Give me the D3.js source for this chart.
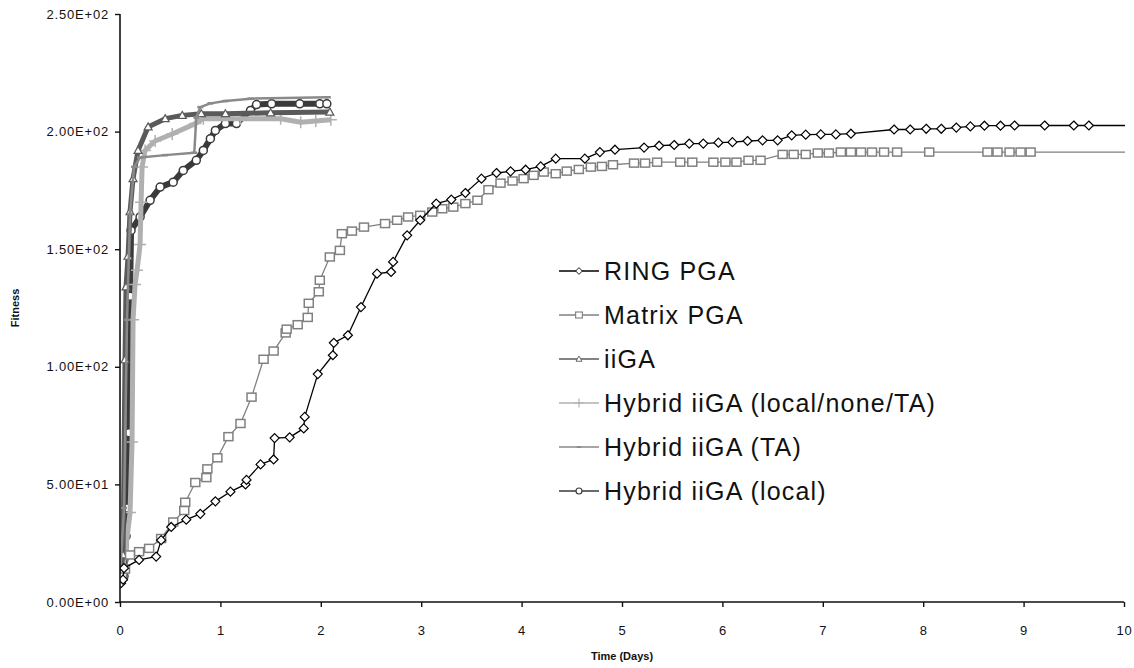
<!DOCTYPE html>
<html>
<head>
<meta charset="utf-8">
<script src="https://cdn.jsdelivr.net/npm/d3@7"></script>
<style>
    body { margin: 0; background: #fff; }
    text { font-family: "Liberation Sans", Arial, sans-serif; fill: #111; }
    .tick text { font-size: 13px; letter-spacing: 0.8px; }
    .axisTitle { font-size: 11px; font-weight: bold; }
    .legendText { font-size: 25px; letter-spacing: 1.2px; }
</style>
</head>
<body>
<script>
// ---- data (time in days, fitness) ----
var ringX = [0.01,0.03,0.04,0.19,0.36,0.41,0.51,0.66,0.80,0.95,1.10,1.25,1.26,1.40,1.53,1.54,1.69,1.83,1.84,1.97,2.12,2.13,2.27,2.40,2.56,2.70,2.72,2.86,2.99,3.15,3.30,3.44,3.60,3.75,3.89,4.04,4.19,4.34,4.63,4.78,4.93,5.22,5.37,5.52,5.67,5.81,5.96,6.10,6.25,6.40,6.55,6.69,6.83,6.98,7.13,7.28,7.71,7.87,8.03,8.18,8.33,8.47,8.61,8.77,8.91,9.21,9.50,9.65,10.4];
var ringY = [8,9.5,14.4,17.9,19.3,26.3,31.9,35,37.5,42.8,46.9,50,51.9,58.5,60.6,69.7,70,73.8,78.7,96.9,104.9,110.2,113.4,125.4,139.6,140.3,144.6,155.9,162.3,169.4,171.1,173.9,180,182.4,183.1,183.8,185.2,188.5,188.5,191.3,192.3,193.2,194,194.3,194.9,194.9,195.3,195.5,196,196.3,196.3,198.4,198.7,198.8,198.8,199.1,200.9,200.9,201.2,201.2,201.7,202.2,202.5,202.5,202.6,202.6,202.6,202.6,202.6];

var matrixX = [0.00,0.02,0.05,0.10,0.19,0.29,0.41,0.53,0.64,0.65,0.75,0.86,0.87,0.97,1.08,1.20,1.31,1.43,1.53,1.65,1.66,1.77,1.87,1.88,1.98,1.99,2.09,2.19,2.21,2.31,2.43,2.64,2.76,2.87,2.99,3.11,3.21,3.32,3.44,3.56,3.67,3.79,3.91,4.02,4.12,4.22,4.34,4.45,4.57,4.69,4.80,4.91,5.12,5.23,5.35,5.58,5.70,5.91,6.03,6.14,6.26,6.38,6.60,6.71,6.83,6.95,7.06,7.18,7.28,7.38,7.49,7.61,7.74,8.06,8.64,8.74,8.86,8.97,9.07,10.4];
var matrixY = [10,11,14,20,21.4,22.8,27,34,38.9,42.4,50.8,52.9,56.6,61.3,70.3,75.9,87.1,103.2,106.7,114.4,116,117.9,121,127,131.9,136.8,146.7,149.5,156.6,157.7,159.4,160.9,162.3,163.7,164.4,165.8,167.2,167.9,169.4,170.8,175.3,178.1,179,180,181.4,182.8,182.1,183.2,183.9,184.9,185.2,185.9,186.6,186.6,187,187,187,187,187,187,187.8,187.8,190.3,190.3,190.3,190.9,190.9,191.3,191.3,191.3,191.3,191.3,191.3,191.3,191.3,191.3,191.3,191.3,191.3,191.3];

var iigaX = [0.00,0.03,0.05,0.06,0.08,0.10,0.13,0.18,0.28,0.45,0.62,0.81,1.05,1.50,2.09];
var iigaY = [12,20,103,134,147,166,180,192,202,205.5,206.9,207.6,207.6,208,208.3];

var hybLntX = [0.01,0.05,0.10,0.12,0.13,0.15,0.17,0.20,0.21,0.22,0.25,0.35,0.52,0.75,0.83,1.20,1.60,1.80,1.95,2.10];
var hybLntY = [12,20,38,68,120,135,141,152,170,185,192,196,199,203.4,205.5,205.5,205.5,204,204.5,205];

var hybTaX = [0.00,0.04,0.07,0.10,0.14,0.20,0.45,0.74,0.76,0.80,0.90,1.05,1.30,2.07];
var hybTaY = [11,40,120,165,185,189,190,191,206,210.4,212,213,214,214.6];

var hybLocX = [0.01,0.04,0.06,0.07,0.09,0.10,0.11,0.20,0.30,0.40,0.53,0.63,0.76,0.83,0.90,0.95,1.05,1.16,1.30,1.36,1.51,1.79,1.99,2.06];
var hybLocY = [9,11,28,40,72,130,158,163.7,170.8,176.4,178.5,183.5,187.8,192,197,200.5,203.4,203.4,209,211.5,211.8,211.8,211.8,211.8];

var seriesNames = ["RING PGA", "Matrix PGA", "iiGA", "Hybrid iiGA (local/none/TA)", "Hybrid iiGA (TA)", "Hybrid iiGA (local)"];

var xTicks = [0,1,2,3,4,5,6,7,8,9,10];
var yTicks = [0,50,100,150,200,250];
var yTickLabels = ["0.00E+00","5.00E+01","1.00E+02","1.50E+02","2.00E+02","2.50E+02"];

// ---- build the chart ----
var w = 1134, h = 668;

var svg = d3.select("body")
    .append("svg")
    .attr("width", w)
    .attr("height", h)
    .attr("class", "svg");

var x = d3.scaleLinear().domain([0, 10]).range([120, 1124]);
var y = d3.scaleLinear().domain([0, 250]).range([602, 14]);

svg.append("clipPath")
    .attr("id", "plotClip")
    .append("rect")
    .attr("x", x(0))
    .attr("y", 0)
    .attr("width", x(10) - x(0) + 1)
    .attr("height", y(0));

function zipPts(xs, ys){
    return xs.map(function(d, i){ return [d, ys[i]]; });
}

// style per series (line colour, width, marker)
var series = [
    {name: seriesNames[5], pts: zipPts(hybLocX, hybLocY), color: "#3a3a3a", lw: 6, marker: "circle"},
    {name: seriesNames[3], pts: zipPts(hybLntX, hybLntY), color: "#b0b0b0", lw: 5, marker: "plus"},
    {name: seriesNames[2], pts: zipPts(iigaX, iigaY), color: "#5a5a5a", lw: 5, marker: "triangle"},
    {name: seriesNames[4], pts: zipPts(hybTaX, hybTaY), color: "#8a8a8a", lw: 2.5, marker: "dash"},
    {name: seriesNames[1], pts: zipPts(matrixX, matrixY), color: "#808080", lw: 1.3, marker: "square"},
    {name: seriesNames[0], pts: zipPts(ringX, ringY), color: "#000000", lw: 1.3, marker: "diamond"}
];

var line = d3.line()
    .x(function(d){ return x(d[0]); })
    .y(function(d){ return y(d[1]); });

function drawMarker(g, type, color){
    if (type === "circle"){
        g.append("circle").attr("r", 4)
            .style("fill", "#fff").style("stroke", color).style("stroke-width", 1.5);
    } else if (type === "square"){
        g.append("rect").attr("x", -4.5).attr("y", -4).attr("width", 9).attr("height", 8)
            .style("fill", "#fff").style("stroke", color).style("stroke-width", 1.5);
    } else if (type === "diamond"){
        g.append("path").attr("d", "M0,-4.5L4.5,0L0,4.5L-4.5,0Z")
            .style("fill", "#fff").style("stroke", color).style("stroke-width", 1.2);
    } else if (type === "triangle"){
        g.append("path").attr("d", "M0,-4L4,3L-4,3Z")
            .style("fill", "#fff").style("stroke", color).style("stroke-width", 1.2);
    } else if (type === "plus"){
        g.append("path").attr("d", "M-6,0H6M0,-6V6")
            .style("fill", "none").style("stroke", color).style("stroke-width", 1.5);
    } else if (type === "dash"){
        g.append("path").attr("d", "M-3,0H3")
            .style("fill", "none").style("stroke", color).style("stroke-width", 2.5);
    }
}

var plot = svg.append("g")
    .attr("class", "plot")
    .attr("clip-path", "url(#plotClip)");

series.forEach(function(s){
    plot.append("path")
        .datum(s.pts)
        .attr("class", "seriesLine")
        .attr("d", line)
        .style("fill", "none")
        .style("stroke", s.color)
        .style("stroke-width", s.lw)
        .style("stroke-linejoin", "round");

    plot.selectAll(null)
        .data(s.pts)
        .enter()
        .append("g")
        .attr("transform", function(d){ return "translate(" + x(d[0]) + "," + y(d[1]) + ")"; })
        .each(function(){ drawMarker(d3.select(this), s.marker, s.color); });
});

// axes
var xAxis = d3.axisBottom(x)
    .tickValues(xTicks)
    .tickSize(5)
    .tickFormat(d3.format("d"));

var yAxis = d3.axisLeft(y)
    .tickValues(yTicks)
    .tickSize(5)
    .tickFormat(function(d, i){ return yTickLabels[i]; });

var gx = svg.append("g")
    .attr("class", "axis")
    .attr("transform", "translate(0," + y(0) + ")")
    .call(xAxis);
gx.select(".domain").attr("d", "M" + x(0) + ",0H" + x(10)).style("stroke", "#111").style("stroke-width", 1.6);
gx.selectAll(".tick line").style("stroke", "#111").style("stroke-width", 1.4);
gx.selectAll(".tick text").attr("y", 24);

var gy = svg.append("g")
    .attr("class", "axis")
    .attr("transform", "translate(" + x(0) + ",0)")
    .call(yAxis);
gy.select(".domain").attr("d", "M0," + y(250) + "V" + y(0)).style("stroke", "#111").style("stroke-width", 1.6);
gy.selectAll(".tick line").style("stroke", "#111").style("stroke-width", 1.4);
gy.selectAll(".tick text").attr("x", -11);

svg.append("text")
    .attr("class", "axisTitle")
    .attr("text-anchor", "middle")
    .attr("x", (x(0) + x(10)) / 2)
    .attr("y", 660)
    .text("Time (Days)");

svg.append("text")
    .attr("class", "axisTitle")
    .attr("text-anchor", "middle")
    .attr("transform", "translate(19," + ((y(0) + y(250)) / 2) + ") rotate(-90)")
    .text("Fitness");

// legend
var legendOrder = [5, 4, 2, 1, 3, 0];   // index into series in legend order
var legend = svg.append("g").attr("class", "legend");

legendOrder.forEach(function(si, i){
    var s = series[si];
    var ly = 271 + i * 44;
    legend.append("line")
        .attr("x1", 559).attr("x2", 599)
        .attr("y1", ly).attr("y2", ly)
        .style("stroke", s.color)
        .style("stroke-width", 1.3);
    var mg = legend.append("g")
        .attr("transform", "translate(579," + ly + ") scale(0.75)");
    drawMarker(mg, s.marker, s.color);
    legend.append("text")
        .attr("class", "legendText")
        .attr("x", 604)
        .attr("y", ly + 9)
        .text(s.name);
});
</script>
</body>
</html>
